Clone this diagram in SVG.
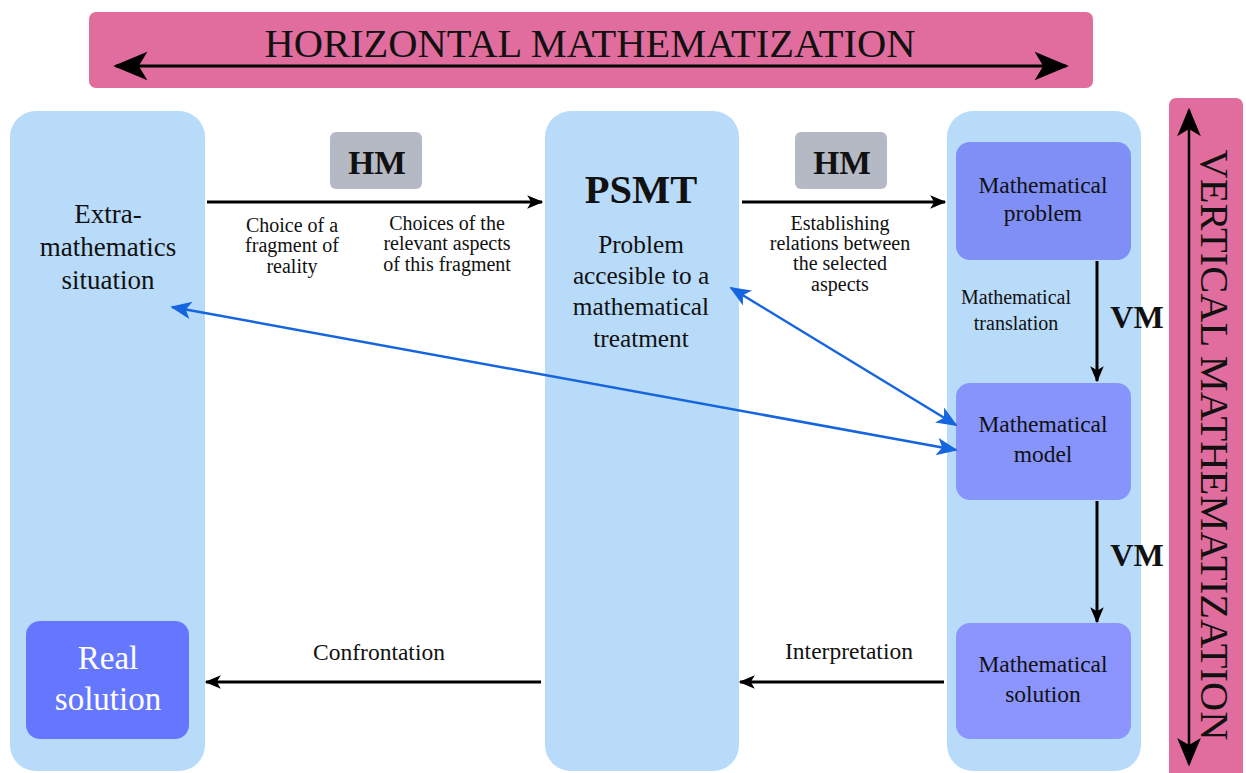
<svg xmlns="http://www.w3.org/2000/svg" width="1246" height="773" viewBox="0 0 1246 773" font-family="'Liberation Serif', 'DejaVu Serif', serif">
<defs>
<style>
text{font-family:"Liberation Serif","DejaVu Serif",serif;fill:#111;text-anchor:middle}
.col{fill:#b9dbfa}
.pink{fill:#e06d9d}
.hm{fill:#b4b9c4}
.blk{stroke:#000;stroke-width:3;fill:none}
.blue{stroke:#1565df;stroke-width:2.5;fill:none}
.t20{font-size:20px}
.t23{font-size:23.5px}
.t27{font-size:27px}
.t25{font-size:25.3px}
.big{font-size:40.5px}
.bold{font-weight:bold}
</style>
<marker id="ahbig" viewBox="0 0 12 10" refX="11" refY="5" markerWidth="12" markerHeight="9.5" orient="auto-start-reverse" markerUnits="strokeWidth">
<path d="M0,0 L12,5 L0,10 L3,5 z" fill="#000"/>
</marker>
<marker id="ahb" viewBox="0 0 12 10" refX="11" refY="5" markerWidth="9" markerHeight="7" orient="auto-start-reverse" markerUnits="strokeWidth">
<path d="M0,0 L12,5 L0,10 L3,5 z" fill="#1565df"/>
</marker>
<marker id="ahs" viewBox="0 0 12 10" refX="11" refY="5" markerWidth="6" markerHeight="4.5" orient="auto-start-reverse" markerUnits="strokeWidth">
<path d="M0,0 L12,5 L0,10 L3,5 z" fill="#000"/>
</marker>
</defs>
<rect width="1246" height="773" fill="#fff"/>

<g id="horizontal-bar">
<rect class="pink" x="89" y="12" width="1004" height="76" rx="7"/>
<text class="big" x="590" y="57">HORIZONTAL MATHEMATIZATION</text>
<line class="blk" x1="116" y1="66" x2="1066" y2="66" marker-start="url(#ahbig)" marker-end="url(#ahbig)"/>
</g>

<g id="vertical-bar">
<rect class="pink" x="1169" y="98" width="74" height="690" rx="7"/>
<text class="big" transform="translate(1201,445) rotate(90)">VERTICAL MATHEMATIZATION</text>
<line x1="1189" y1="110" x2="1189" y2="764" stroke="#000" stroke-width="2.5" marker-start="url(#ahbig)" marker-end="url(#ahbig)"/>
</g>

<g id="extra-math">
<rect class="col" x="10" y="111" width="195" height="660" rx="26"/>
<text class="t27" x="108" y="223">Extra-</text>
<text class="t27" x="108" y="256">mathematics</text>
<text class="t27" x="108" y="289">situation</text>
</g>

<g id="real-solution">
<rect x="26" y="621" width="163" height="118" rx="14" fill="#6677ff"/>
<text x="108" y="669" style="font-size:33px;fill:#fff">Real</text>
<text x="108" y="710" style="font-size:33px;fill:#fff">solution</text>
</g>

<g id="psmt">
<rect class="col" x="545" y="111" width="194" height="660" rx="26"/>
<text class="big bold" x="641" y="203">PSMT</text>
<text class="t25" x="641" y="253">Problem</text>
<text class="t25" x="641" y="284">accesible to a</text>
<text class="t25" x="641" y="315">mathematical</text>
<text class="t25" x="641" y="347">treatment</text>
</g>

<g id="math-column">
<rect class="col" x="947" y="111" width="194" height="660" rx="26"/>
</g>

<g id="math-problem">
<rect x="956" y="142" width="175" height="118" rx="14" fill="#7f8ff5"/>
<text class="t23" x="1043" y="193">Mathematical</text>
<text class="t23" x="1043" y="221">problem</text>
</g>

<g id="math-model">
<rect x="956" y="383" width="175" height="117" rx="14" fill="#8794fb"/>
<text class="t23" x="1043" y="432">Mathematical</text>
<text class="t23" x="1043" y="462">model</text>
</g>

<g id="math-solution">
<rect x="956" y="623" width="175" height="116" rx="14" fill="#8b95fd"/>
<text class="t23" x="1043" y="672">Mathematical</text>
<text class="t23" x="1043" y="702">solution</text>
</g>

<g id="hm1">
<rect class="hm" x="330" y="132" width="92" height="57" rx="6"/>
<text class="bold" x="377" y="174" style="font-size:33.5px">HM</text>
</g>
<g id="hm2">
<rect class="hm" x="795" y="132" width="92" height="57" rx="6"/>
<text class="bold" x="842" y="174" style="font-size:33.5px">HM</text>
</g>

<g id="connectors">
<line class="blk" x1="207" y1="202" x2="542" y2="202" marker-end="url(#ahs)"/>
<line class="blk" x1="742" y1="202" x2="945" y2="202" marker-end="url(#ahs)"/>
<line class="blk" x1="1097" y1="261" x2="1097" y2="381" marker-end="url(#ahs)"/>
<line class="blk" x1="1097" y1="501" x2="1097" y2="622" marker-end="url(#ahs)"/>
<line class="blk" x1="944" y1="682" x2="740" y2="682" marker-end="url(#ahs)"/>
<line class="blk" x1="541" y1="682" x2="206" y2="682" marker-end="url(#ahs)"/>
<line class="blue" x1="172" y1="307" x2="956" y2="450" marker-start="url(#ahb)" marker-end="url(#ahb)"/>
<line class="blue" x1="731" y1="288" x2="956" y2="425" marker-start="url(#ahb)" marker-end="url(#ahb)"/>
<text class="t20" x="292" y="232">Choice of a</text>
<text class="t20" x="292" y="252">fragment of</text>
<text class="t20" x="292" y="273">reality</text>
<text class="t20" x="447" y="230">Choices of the</text>
<text class="t20" x="447" y="250">relevant aspects</text>
<text class="t20" x="447" y="271">of this fragment</text>
<text class="t20" x="840" y="230">Establishing</text>
<text class="t20" x="840" y="250">relations between</text>
<text class="t20" x="840" y="270">the selected</text>
<text class="t20" x="840" y="291">aspects</text>
<text class="t20" x="1016" y="304">Mathematical</text>
<text class="t20" x="1016" y="330">translation</text>
<text class="bold" x="1137" y="328" style="font-size:32px">VM</text>
<text class="bold" x="1137" y="566" style="font-size:32px">VM</text>
<text class="t23" x="379" y="660">Confrontation</text>
<text class="t23" x="849" y="659">Interpretation</text>
</g>
</svg>
